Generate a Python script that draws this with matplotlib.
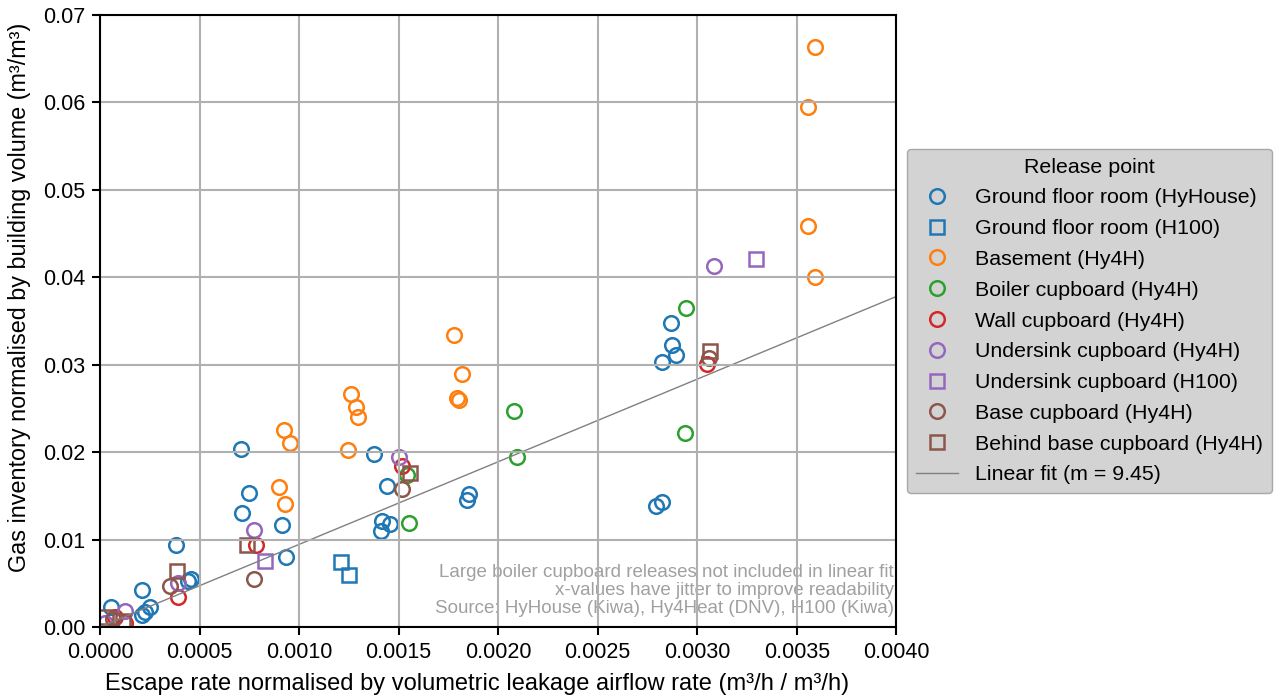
import matplotlib
matplotlib.use("Agg")
import matplotlib.pyplot as plt

plt.rcParams['font.family'] = ['Liberation Sans', 'DejaVu Sans']
plt.rcParams['font.size'] = 15

# Escape rate (x) and gas inventory (y), both normalised, per release point
gfr_hyhouse_x = [0.000707, 0.000747, 0.000712, 0.000912, 0.000932, 0.000381, 0.000211,
                 0.000055, 0.000251, 0.000226, 0.000211, 0.000441, 0.000456,
                 0.001378, 0.001444, 0.001419, 0.001459, 0.001414, 0.001845, 0.001855,
                 0.002867, 0.002872, 0.002892, 0.002822, 0.002792, 0.002822]
gfr_hyhouse_y = [0.0204, 0.0153, 0.0130, 0.0117, 0.0080, 0.0094, 0.0042,
                 0.0023, 0.0023, 0.0017, 0.0014, 0.0053, 0.0055,
                 0.0198, 0.0161, 0.0121, 0.0118, 0.0110, 0.0145, 0.0152,
                 0.0348, 0.0322, 0.0311, 0.0303, 0.0138, 0.0143]

gfr_h100_x = [0.001213, 0.001253]
gfr_h100_y = [0.0074, 0.0059]

basement_x = [0.003594, 0.003559, 0.003559, 0.003594, 0.001779, 0.001820, 0.001795, 0.001805,
              0.001263, 0.001288, 0.001298, 0.001248, 0.000922, 0.000952, 0.000897, 0.000927]
basement_y = [0.0663, 0.0595, 0.0459, 0.0400, 0.0334, 0.0289, 0.0262, 0.0260,
              0.0267, 0.0252, 0.0240, 0.0202, 0.0225, 0.0210, 0.0160, 0.0141]

boiler_x = [0.002942, 0.002937, 0.002080, 0.002095, 0.001554, 0.001544]
boiler_y = [0.0365, 0.0222, 0.0247, 0.0195, 0.0119, 0.0174]

wall_x = [0.003048, 0.001519, 0.000782, 0.000391, 0.000075, 0.000125]
wall_y = [0.0301, 0.0184, 0.0094, 0.0034, 0.0011, 0.0005]

undersink_hy4h_x = [0.003083, 0.001504, 0.000772, 0.000391, 0.000125, 0.000025]
undersink_hy4h_y = [0.0413, 0.0194, 0.0111, 0.0050, 0.0018, 0.0005]

undersink_h100_x = [0.003293, 0.000827]
undersink_h100_y = [0.0421, 0.0076]

base_x = [0.003058, 0.001519, 0.000772, 0.000351, 0.000065]
base_y = [0.0308, 0.0158, 0.0055, 0.0047, 0.0009]

behind_base_x = [0.003063, 0.001559, 0.000737, 0.000386, 0.000030, 0.000115]
behind_base_y = [0.0316, 0.0176, 0.0094, 0.0064, 0.0011, 0.0007]

fit_slope = 9.45
fit_x = [0.0, 0.004]

x_ticks = [0.0, 0.0005, 0.0010, 0.0015, 0.0020, 0.0025, 0.0030, 0.0035, 0.0040]
y_ticks = [0.00, 0.01, 0.02, 0.03, 0.04, 0.05, 0.06, 0.07]

series = [
    ("Ground floor room (HyHouse)", gfr_hyhouse_x, gfr_hyhouse_y, "tab:blue", "o"),
    ("Ground floor room (H100)", gfr_h100_x, gfr_h100_y, "tab:blue", "s"),
    ("Basement (Hy4H)", basement_x, basement_y, "tab:orange", "o"),
    ("Boiler cupboard (Hy4H)", boiler_x, boiler_y, "tab:green", "o"),
    ("Wall cupboard (Hy4H)", wall_x, wall_y, "tab:red", "o"),
    ("Undersink cupboard (Hy4H)", undersink_hy4h_x, undersink_hy4h_y, "tab:purple", "o"),
    ("Undersink cupboard (H100)", undersink_h100_x, undersink_h100_y, "tab:purple", "s"),
    ("Base cupboard (Hy4H)", base_x, base_y, "tab:brown", "o"),
    ("Behind base cupboard (Hy4H)", behind_base_x, behind_base_y, "tab:brown", "s"),
]

fig = plt.figure(figsize=(12.74, 6.98), dpi=100)
ax = fig.add_axes([0.0785, 0.1017, 0.625, 0.8768])

for label, xs, ys, color, marker in series:
    ax.plot(xs, ys, linestyle="none", marker=marker, markersize=10.5,
            markerfacecolor="none", markeredgecolor=color, markeredgewidth=1.8,
            label=label, zorder=1)

ax.plot(fit_x, [fit_slope * v for v in fit_x], color="gray", linewidth=1.0,
        label=f"Linear fit (m = {fit_slope})", zorder=1)

ax.set_xlim(0, 0.004)
ax.set_ylim(0, 0.07)
ax.set_xticks(x_ticks)
ax.set_xticklabels([f"{v:.4f}" for v in x_ticks])
ax.set_yticks(y_ticks)
ax.set_yticklabels([f"{v:.2f}" for v in y_ticks])
ax.tick_params(labelsize=15.5, width=1.5, length=6, pad=4.5)
ax.grid(True, color="#b0b0b0", linewidth=1.5, zorder=1.5)
for sp in ax.spines.values():
    sp.set_linewidth(1.5)

ax.set_xlabel("Escape rate normalised by volumetric leakage airflow rate (m³/h / m³/h)",
              fontsize=17)
ax.set_ylabel("Gas inventory normalised by building volume (m³/m³)", fontsize=16.8)
ax.xaxis.set_label_coords(0.474, -0.075)
ax.yaxis.set_label_coords(-0.087, 0.539)

ax.text(0.997, 0.017,
        "Large boiler cupboard releases not included in linear fit\n"
        "x-values have jitter to improve readability\n"
        "Source: HyHouse (Kiwa), Hy4Heat (DNV), H100 (Kiwa)",
        transform=ax.transAxes, ha="right", va="bottom", color="#a0a0a0",
        fontsize=13.5, linespacing=1.05, zorder=0.8)

leg = ax.legend(title="Release point", loc="center left", bbox_to_anchor=(1.0, 0.5),
                facecolor="#d3d3d3", edgecolor="#a8a8a8", framealpha=1.0,
                fontsize=15.4, title_fontsize=15.4, labelspacing=0.55)

fig.savefig("out.png", dpi=100)
